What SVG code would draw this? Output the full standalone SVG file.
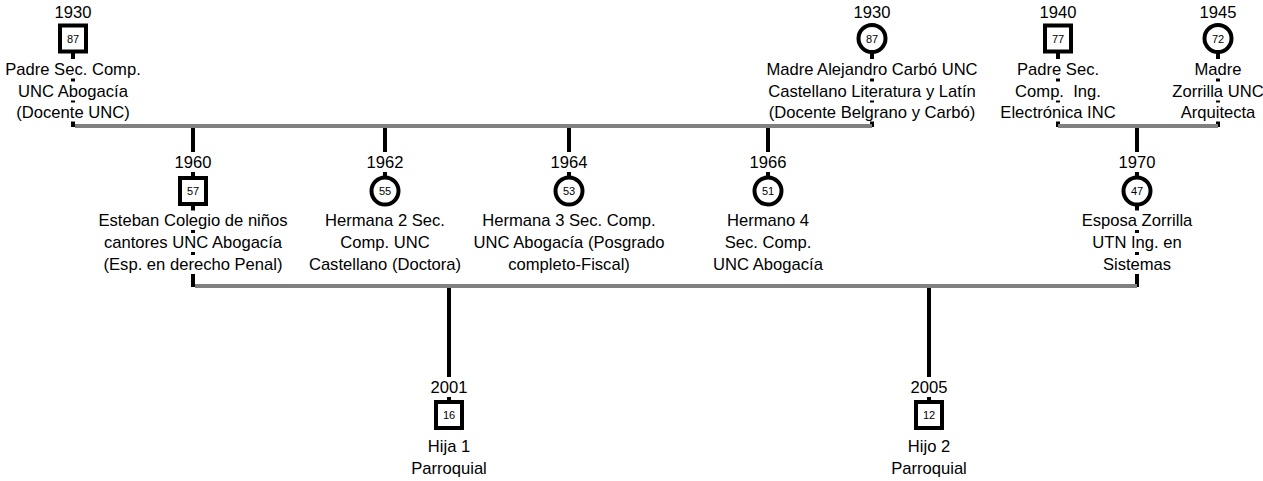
<svg xmlns="http://www.w3.org/2000/svg" width="1263" height="481" viewBox="0 0 1263 481">
  <style>
    .bg { fill: #ffffff; }
    .union { stroke: #808080; stroke-width: 4; fill: none; }
    .link { stroke: #000000; stroke-width: 4; fill: none; }
    .male { fill: #ffffff; stroke: #000000; stroke-width: 4; }
    .female { fill: #ffffff; stroke: #000000; stroke-width: 4; }
    .age { font-family: "Liberation Sans", Arial, sans-serif; font-size: 11px; text-anchor: middle; fill: #000000; }
    .lbl { font-family: "Liberation Sans", Arial, sans-serif; font-size: 16.6px; text-anchor: middle; fill: #000000; }
  </style>

  <rect x="0" y="0" width="1263" height="481" fill="#ffffff"/>

  <!-- family lines -->
  <g id="connectors">
    <!-- vertical links from each person to the union / parents line -->
    <line class="link" x1="73" y1="38" x2="73" y2="127"/>
    <line class="link" x1="872" y1="38" x2="872" y2="127"/>
    <line class="link" x1="1058" y1="38" x2="1058" y2="127"/>
    <line class="link" x1="1218" y1="38" x2="1218" y2="127"/>
    <line class="link" x1="193" y1="127" x2="193" y2="287"/>
    <line class="link" x1="385" y1="127" x2="385" y2="191"/>
    <line class="link" x1="569" y1="127" x2="569" y2="191"/>
    <line class="link" x1="768" y1="127" x2="768" y2="191"/>
    <line class="link" x1="1137" y1="127" x2="1137" y2="287"/>
    <line class="link" x1="449" y1="287" x2="449" y2="415"/>
    <line class="link" x1="929" y1="287" x2="929" y2="415"/>
    <!-- union lines -->
    <line class="union" x1="75" y1="126" x2="872" y2="126"/>
    <line class="union" x1="1058" y1="126" x2="1218" y2="126"/>
    <line class="union" x1="195" y1="286" x2="1137" y2="286"/>
  </g>

  <!-- first generation -->
  <g id="padre-1930">
    <rect class="bg" x="55" y="3" width="36" height="18.5"/>
    <text class="lbl" x="73" y="18">1930</text>
    <rect class="male" x="60" y="25.5" width="26" height="26"/>
    <text class="age" x="73" y="42.5">87</text>
    <rect class="bg" x="63" y="59" width="20" height="19.5"/>
    <rect class="bg" x="63" y="81.5" width="20" height="19"/>
    <rect class="bg" x="63" y="102.5" width="20" height="19"/>
    <text class="lbl" x="73" y="75">Padre Sec. Comp.</text>
    <text class="lbl" x="73" y="97">UNC Abogacía</text>
    <text class="lbl" x="73" y="118">(Docente UNC)</text>
  </g>

  <g id="madre-1930">
    <rect class="bg" x="854" y="3" width="36" height="18.5"/>
    <text class="lbl" x="872" y="18">1930</text>
    <circle class="female" cx="872" cy="38.5" r="13.5"/>
    <text class="age" x="872" y="42.5">87</text>
    <rect class="bg" x="862" y="59" width="20" height="19.5"/>
    <rect class="bg" x="862" y="81.5" width="20" height="19"/>
    <rect class="bg" x="862" y="102.5" width="20" height="19"/>
    <text class="lbl" x="872" y="75">Madre Alejandro Carbó UNC</text>
    <text class="lbl" x="872" y="97">Castellano Literatura y Latín</text>
    <text class="lbl" x="872" y="118">(Docente Belgrano y Carbó)</text>
  </g>

  <g id="padre-1940">
    <rect class="bg" x="1040" y="3" width="36" height="18.5"/>
    <text class="lbl" x="1058" y="18">1940</text>
    <rect class="male" x="1045" y="25.5" width="26" height="26"/>
    <text class="age" x="1058" y="42.5">77</text>
    <rect class="bg" x="1048" y="59" width="20" height="19.5"/>
    <rect class="bg" x="1048" y="81.5" width="20" height="19"/>
    <rect class="bg" x="1048" y="102.5" width="20" height="19"/>
    <text class="lbl" x="1058" y="75">Padre Sec.</text>
    <text class="lbl" x="1058" y="97" xml:space="preserve">Comp.  Ing.</text>
    <text class="lbl" x="1058" y="118">Electrónica INC</text>
  </g>

  <g id="madre-1945">
    <rect class="bg" x="1200" y="3" width="36" height="18.5"/>
    <text class="lbl" x="1218" y="18">1945</text>
    <circle class="female" cx="1218" cy="38.5" r="13.5"/>
    <text class="age" x="1218" y="42.5">72</text>
    <rect class="bg" x="1208" y="59" width="20" height="19.5"/>
    <rect class="bg" x="1208" y="81.5" width="20" height="19"/>
    <rect class="bg" x="1208" y="102.5" width="20" height="19"/>
    <text class="lbl" x="1218" y="75">Madre</text>
    <text class="lbl" x="1218" y="97">Zorrilla UNC</text>
    <text class="lbl" x="1218" y="118">Arquitecta</text>
  </g>

  <!-- second generation -->
  <g id="esteban-1960">
    <rect class="bg" x="175" y="152" width="36" height="20"/>
    <text class="lbl" x="193" y="168">1960</text>
    <rect class="male" x="180" y="178" width="26" height="26"/>
    <text class="age" x="193" y="195">57</text>
    <rect class="bg" x="183" y="210.5" width="20" height="19.5"/>
    <rect class="bg" x="183" y="233" width="20" height="19"/>
    <rect class="bg" x="183" y="255" width="20" height="19"/>
    <text class="lbl" x="193" y="226">Esteban Colegio de niños</text>
    <text class="lbl" x="193" y="248">cantores UNC Abogacía</text>
    <text class="lbl" x="193" y="270">(Esp. en derecho Penal)</text>
  </g>

  <g id="hermana2-1962">
    <rect class="bg" x="367" y="152" width="36" height="20"/>
    <text class="lbl" x="385" y="168">1962</text>
    <circle class="female" cx="385" cy="191" r="13.5"/>
    <text class="age" x="385" y="195">55</text>
    <text class="lbl" x="385" y="226">Hermana 2 Sec.</text>
    <text class="lbl" x="385" y="248">Comp. UNC</text>
    <text class="lbl" x="385" y="270">Castellano (Doctora)</text>
  </g>

  <g id="hermana3-1964">
    <rect class="bg" x="551" y="152" width="36" height="20"/>
    <text class="lbl" x="569" y="168">1964</text>
    <circle class="female" cx="569" cy="191" r="13.5"/>
    <text class="age" x="569" y="195">53</text>
    <text class="lbl" x="569" y="226">Hermana 3 Sec. Comp.</text>
    <text class="lbl" x="569" y="248">UNC Abogacía (Posgrado</text>
    <text class="lbl" x="569" y="270">completo-Fiscal)</text>
  </g>

  <g id="hermano4-1966">
    <rect class="bg" x="750" y="152" width="36" height="20"/>
    <text class="lbl" x="768" y="168">1966</text>
    <circle class="female" cx="768" cy="191" r="13.5"/>
    <text class="age" x="768" y="195">51</text>
    <text class="lbl" x="768" y="226">Hermano 4</text>
    <text class="lbl" x="768" y="248">Sec. Comp.</text>
    <text class="lbl" x="768" y="270">UNC Abogacía</text>
  </g>

  <g id="esposa-1970">
    <rect class="bg" x="1119" y="152" width="36" height="20"/>
    <text class="lbl" x="1137" y="168">1970</text>
    <circle class="female" cx="1137" cy="191" r="13.5"/>
    <text class="age" x="1137" y="195">47</text>
    <rect class="bg" x="1127" y="210.5" width="20" height="19.5"/>
    <rect class="bg" x="1127" y="233" width="20" height="19"/>
    <rect class="bg" x="1127" y="255" width="20" height="19"/>
    <text class="lbl" x="1137" y="226">Esposa Zorrilla</text>
    <text class="lbl" x="1137" y="248">UTN Ing. en</text>
    <text class="lbl" x="1137" y="270">Sistemas</text>
  </g>

  <!-- third generation -->
  <g id="hija1-2001">
    <rect class="bg" x="431" y="377" width="36" height="20"/>
    <text class="lbl" x="449" y="393">2001</text>
    <rect class="male" x="436" y="402" width="26" height="26"/>
    <text class="age" x="449" y="419">16</text>
    <text class="lbl" x="449" y="452">Hija 1</text>
    <text class="lbl" x="449" y="473.5">Parroquial</text>
  </g>

  <g id="hijo2-2005">
    <rect class="bg" x="911" y="377" width="36" height="20"/>
    <text class="lbl" x="929" y="393">2005</text>
    <rect class="male" x="916" y="402" width="26" height="26"/>
    <text class="age" x="929" y="419">12</text>
    <text class="lbl" x="929" y="452">Hijo 2</text>
    <text class="lbl" x="929" y="473.5">Parroquial</text>
  </g>
</svg>
